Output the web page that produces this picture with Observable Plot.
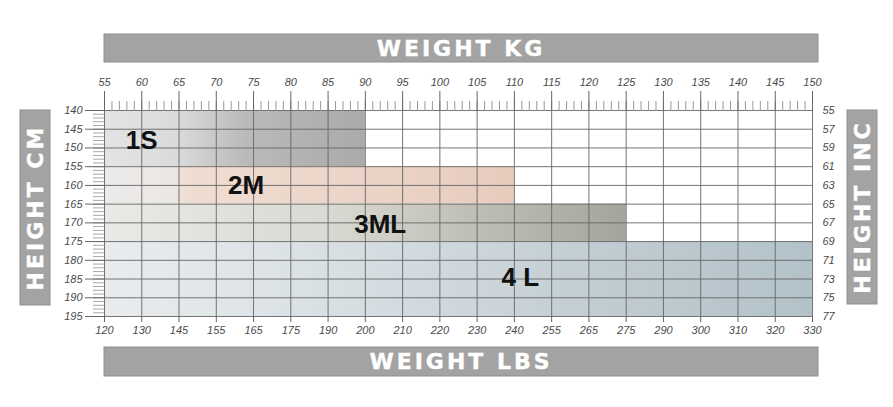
<!DOCTYPE html>
<html><head><meta charset="utf-8">
<script src="https://cdn.jsdelivr.net/npm/d3@7"></script>
<script src="https://cdn.jsdelivr.net/npm/@observablehq/plot@0.6"></script>
<style>body{margin:0;background:#fff}</style>
</head><body><div id="chart"></div>
<script>
// Size bands
const sizes = ["1S", "2M", "3ML", "4 L"];
const kgFrom = [55, 55, 55, 55];
const kgTo = [90, 110, 125, 150];
const cmFrom = [140, 155, 165, 175];
const cmTo = [155, 165, 175, 195];
const labelKg = [60, 74, 92, 110.8];
const labelCm = [148, 160, 170.4, 184.6];

// Axes
const kgTicks = [55,60,65,70,75,80,85,90,95,100,105,110,115,120,125,130,135,140,145,150];
const lbsLabels = ["120","130","145","155","165","175","190","200","210","220","230","240","255","265","275","290","300","310","320","330"];
const cmTicks = [140,145,150,155,160,165,170,175,180,185,190,195];
const inchLabels = ["55","57","59","61","63","65","67","69","71","73","75","77"];
const kgMinor = d3.range(55, 151, 1);
const cmMinor = d3.range(140, 196, 1);

// Styles: gradient stops per band [kg, colour]
const gradStops = [
  [[55,"#e4e4e4"],[65,"#dadada"],[74,"#bababa"],[90,"#aaaaaa"]],
  [[55,"#ecebea"],[64.5,"#ebe7e4"],[66,"#f0ddd2"],[110,"#e7ccbe"]],
  [[55,"#e9e9e6"],[85,"#dadad4"],[105,"#bebeb5"],[125,"#a5a59b"]],
  [[55,"#e9ecee"],[90,"#d6dee2"],[125,"#bfcbd1"],[150,"#b3c2c9"]]
];

const rows = sizes.map((s, i) => ({i, size: s, x1: kgFrom[i], x2: kgTo[i], y1: cmFrom[i], y2: cmTo[i], lx: labelKg[i], ly: labelCm[i]}));

function defs() {
  const g = d3.create("svg:defs");
  gradStops.forEach((stops, i) => {
    const lg = g.append("linearGradient").attr("id", `band${i}`)
      .attr("x1", 0).attr("x2", 1).attr("y1", 0).attr("y2", 0);
    stops.forEach(([kg, c]) => lg.append("stop")
      .attr("offset", (kg - kgFrom[i]) / (kgTo[i] - kgFrom[i]))
      .attr("stop-color", c));
  });
  return g.node();
}

function banners(index, scales, values, dim) {
  const {width, height, marginLeft, marginRight, marginTop, marginBottom} = dim;
  const left = marginLeft, right = width - marginRight + 6;
  const top = marginTop, bottom = height - marginBottom;
  const g = d3.create("svg:g");
  const fill = "#a3a3a3", stroke = "#8f8f8f";
  const boxes = [
    {x: left, y: top - 76, w: right - left, h: 28, t: "WEIGHT KG", r: 0},
    {x: left, y: bottom + 31, w: right - left, h: 29, t: "WEIGHT LBS", r: 0},
    {x: left - 84, y: top, w: 30, h: 195, t: "HEIGHT CM", r: -90},
    {x: right + 29, y: top, w: 30, h: 194, t: "HEIGHT INC", r: -90}
  ];
  for (const b of boxes) {
    g.append("rect").attr("x", b.x).attr("y", b.y).attr("width", b.w).attr("height", b.h)
      .attr("fill", fill).attr("stroke", stroke).attr("stroke-width", 1);
    const cx = b.x + b.w / 2, cy = b.y + b.h / 2;
    g.append("text").attr("transform", `translate(${cx},${cy}) rotate(${b.r})`)
      .attr("text-anchor", "middle").attr("dy", "0.36em")
      .attr("fill", "#ffffff").attr("font-family", "DejaVu Sans")
      .attr("font-weight", "bold").attr("font-size", 22).attr("letter-spacing", 3)
      .attr("stroke", "#ffffff").attr("stroke-width", 0.4)
      .text(b.t);
  }
  return g.node();
}

const tickFont = {fontStyle: "italic", fontFamily: "Liberation Sans", fontSize: 11, fill: "#4a4a4a"};

const chart = Plot.plot({
  width: 893,
  height: 407,
  marginLeft: 104,
  marginRight: 81,
  marginTop: 110,
  marginBottom: 91,
  style: {fontFamily: "Liberation Sans", fontSize: "11px", background: "#fff"},
  x: {domain: [55, 150]},
  y: {domain: [140, 195], reverse: true},
  marks: [
    defs,
    banners,
    ...rows.map(r => Plot.rect([r], {x1: "x1", x2: "x2", y1: "y1", y2: "y2", fill: `url(#band${r.i})`})),
    Plot.ruleY(cmTicks, {x1: 55, x2: 150, stroke: "#666", strokeOpacity: 0.9}),
    Plot.ruleX(kgTicks, {y1: 140, y2: 195, stroke: "#666", strokeOpacity: 0.9}),
    Plot.axisX(kgMinor, {anchor: "top", tickSize: 10, tickFormat: () => "", stroke: "#9a9a9a", label: null}),
    Plot.axisX(kgTicks, {anchor: "top", tickSize: 20, tickPadding: 5, label: null, stroke: "#666", ...tickFont}),
    Plot.axisX(kgTicks, {anchor: "bottom", tickSize: 6, tickPadding: 4, label: null, stroke: "#666",
      tickFormat: (d) => lbsLabels[kgTicks.indexOf(d)], ...tickFont}),
    Plot.axisY(cmMinor, {anchor: "left", tickSize: 11, tickFormat: () => "", stroke: "#a8a8a8", label: null}),
    Plot.axisY(cmTicks, {anchor: "left", tickSize: 19, tickPadding: 3, label: null, stroke: "#666", ...tickFont}),
    Plot.axisY(cmTicks, {anchor: "right", tickSize: 0, tickPadding: 10, label: null,
      tickFormat: (d) => inchLabels[cmTicks.indexOf(d)], ...tickFont}),
    Plot.text(rows, {x: "lx", y: "ly", text: "size", fontSize: 26, fontWeight: "bold",
      fontFamily: "Liberation Sans", fill: "#111"})
  ]
});
document.getElementById("chart").append(chart);
</script>
</body></html>
